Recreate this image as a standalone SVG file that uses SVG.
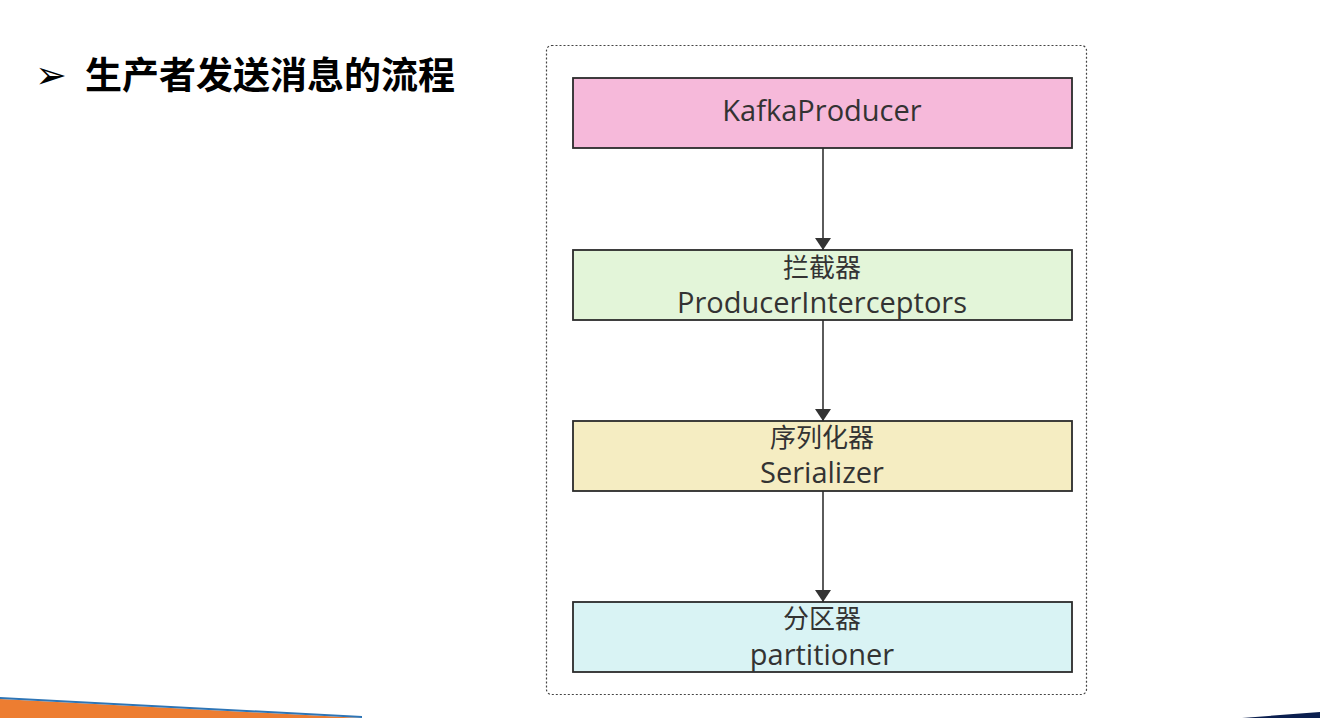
<svg xmlns="http://www.w3.org/2000/svg" width="1320" height="718" viewBox="0 0 1320 718">
<style>
.box{stroke:#2b2b2b;stroke-width:1.8}
.lbl{font-family:"Open Sans","Noto Sans","Noto Sans CJK SC",sans-serif;font-size:29px;fill:#333;text-anchor:middle}
.cjk{font-family:"Noto Sans CJK SC",sans-serif;font-size:26px;fill:#333;text-anchor:middle}
.edge{stroke:#333;stroke-width:1.6;fill:none}
</style>
<defs>
<marker id="arr" viewBox="0 0 12 16" refX="12" refY="8" markerWidth="12" markerHeight="16" markerUnits="userSpaceOnUse" orient="auto">
<path d="M0,0 L12,8 L0,16 z" fill="#333"/>
</marker>
</defs>
<rect width="1320" height="718" fill="#fff"/>
<g id="decor">
<polygon points="0,699 362,718 0,718" fill="#ed7d31"/>
<polygon points="0,697 362,716 362,718 0,699" fill="#2e75b6"/>
<polygon points="1242,718 1320,712 1320,718" fill="#0b1f4f"/>
</g>
<g id="title">
<text x="35" y="88" font-family="DejaVu Sans,sans-serif" font-size="38" fill="#000">➢</text>
<text x="85" y="89" font-family="'Noto Sans CJK SC',sans-serif" font-weight="bold" font-size="37" fill="#000">生产者发送消息的流程</text>
</g>
<g id="container">
<rect x="546.5" y="45.5" width="540" height="649" rx="5" fill="none" stroke="#444" stroke-width="1.2" stroke-dasharray="2,2"/>
</g>
<g id="connectors">
<line class="edge" x1="823" y1="148" x2="823" y2="250" marker-end="url(#arr)"/>
<line class="edge" x1="823" y1="320" x2="823" y2="421" marker-end="url(#arr)"/>
<line class="edge" x1="823" y1="491" x2="823" y2="602" marker-end="url(#arr)"/>
</g>
<g id="kafkaProducer">
<rect class="box" x="573" y="78" width="499" height="70" fill="#f6b9da"/>
<text class="lbl" x="822" y="121">KafkaProducer</text>
</g>
<g id="interceptors">
<rect class="box" x="573" y="250" width="499" height="70" fill="#e3f5d9"/>
<text class="cjk" x="822" y="277">拦截器</text>
<text class="lbl" x="822" y="313">ProducerInterceptors</text>
</g>
<g id="serializer">
<rect class="box" x="573" y="421" width="499" height="70" fill="#f5edc2"/>
<text class="cjk" x="822" y="447">序列化器</text>
<text class="lbl" x="822" y="483">Serializer</text>
</g>
<g id="partitioner">
<rect class="box" x="573" y="602" width="499" height="70" fill="#d9f3f4"/>
<text class="cjk" x="822" y="628">分区器</text>
<text class="lbl" x="822" y="665">partitioner</text>
</g>
</svg>
